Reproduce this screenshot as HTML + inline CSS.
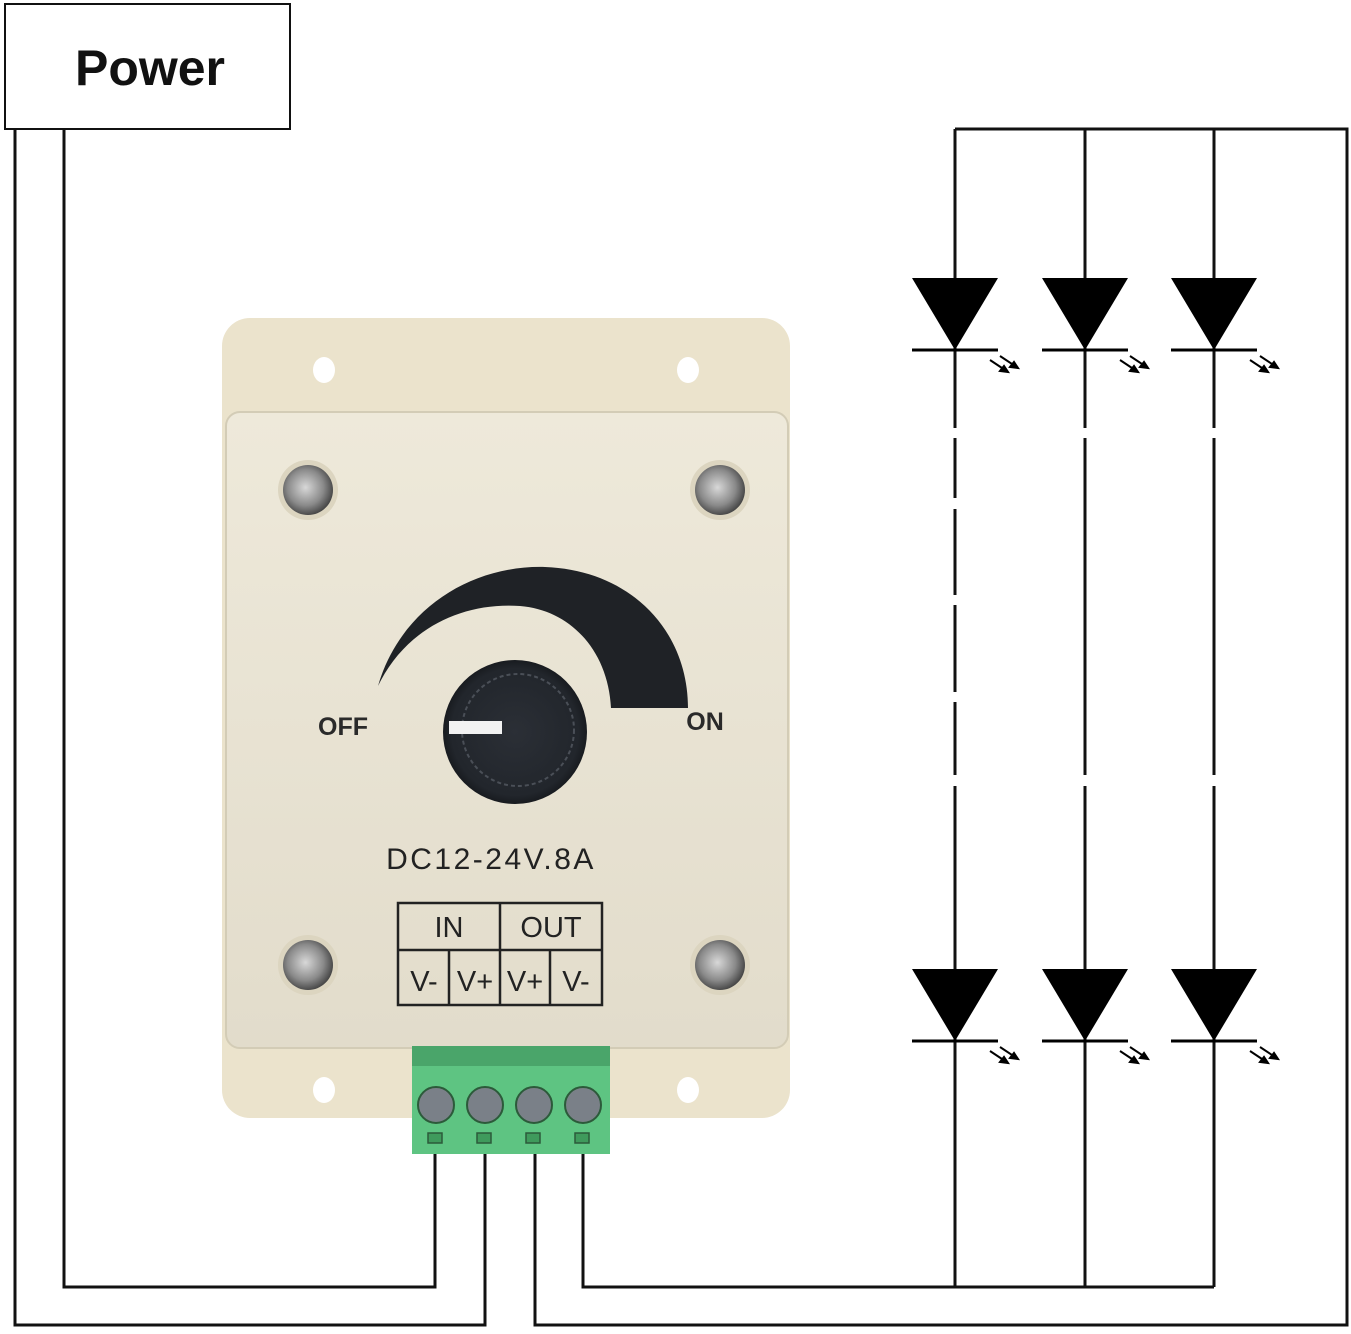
<!DOCTYPE html>
<html><head><meta charset="utf-8"><style>
html,body{margin:0;padding:0;background:#fff;}
svg{display:block;}
</style></head><body>
<svg width="1351" height="1334" viewBox="0 0 1351 1334" xmlns="http://www.w3.org/2000/svg">
<defs>
<radialGradient id="scr" cx="0.45" cy="0.45" r="0.6"><stop offset="0" stop-color="#d8d8d8"/><stop offset="0.6" stop-color="#8a8a8a"/><stop offset="1" stop-color="#3a3a3a"/></radialGradient>
<radialGradient id="knob" cx="0.5" cy="0.5" r="0.55"><stop offset="0" stop-color="#2b2f36"/><stop offset="0.8" stop-color="#22262c"/><stop offset="1" stop-color="#101215"/></radialGradient>
<linearGradient id="bg" x1="0" y1="0" x2="0" y2="1"><stop offset="0" stop-color="#eee9da"/><stop offset="1" stop-color="#e2dccb"/></linearGradient>
</defs>
<rect x="5" y="4" width="285" height="125" fill="#fff" stroke="#111" stroke-width="2"/>
<text x="150" y="85" text-anchor="middle" font-family="Liberation Sans, sans-serif" font-weight="bold" font-size="50" fill="#111">Power</text>
<g fill="none" stroke="#111" stroke-width="3">
<polyline points="64,129 64,1287 435,1287 435,1150"/>
<polyline points="15,129 15,1325 485,1325 485,1150"/>
<polyline points="535,1150 535,1325 1347,1325 1347,129 955,129"/>
<polyline points="583,1150 583,1287 1214,1287"/>
</g>
<g stroke="#111" stroke-width="3" fill="none">
<path d="M955 129V428M955 438V498M955 509V595M955 605V692M955 702V775M955 786V1287"/>
<path d="M1085 129V428M1085 438V775M1085 786V1287"/>
<path d="M1214 129V428M1214 438V775M1214 786V1287"/>
</g>
<g>
<g fill="#000">
<polygon points="912,278 998,278 955,350"/><polygon points="1042,278 1128,278 1085,350"/><polygon points="1171,278 1257,278 1214,350"/>
<polygon points="912,969 998,969 955,1041"/><polygon points="1042,969 1128,969 1085,1041"/><polygon points="1171,969 1257,969 1214,1041"/>
</g>
<g stroke="#000" stroke-width="3">
<path d="M912 350H998M1042 350H1128M1171 350H1257M912 1041H998M1042 1041H1128M1171 1041H1257"/>
</g>
<g stroke="#000" stroke-width="2" fill="#000">
<g transform="translate(990,360)"><path d="M0 0L18 12M10 -4L28 8"/><polygon points="18,12 10,11 14,6"/><polygon points="28,8 20,7 24,2"/></g>
<g transform="translate(1120,360)"><path d="M0 0L18 12M10 -4L28 8"/><polygon points="18,12 10,11 14,6"/><polygon points="28,8 20,7 24,2"/></g>
<g transform="translate(1250,360)"><path d="M0 0L18 12M10 -4L28 8"/><polygon points="18,12 10,11 14,6"/><polygon points="28,8 20,7 24,2"/></g>
<g transform="translate(990,1051)"><path d="M0 0L18 12M10 -4L28 8"/><polygon points="18,12 10,11 14,6"/><polygon points="28,8 20,7 24,2"/></g>
<g transform="translate(1120,1051)"><path d="M0 0L18 12M10 -4L28 8"/><polygon points="18,12 10,11 14,6"/><polygon points="28,8 20,7 24,2"/></g>
<g transform="translate(1250,1051)"><path d="M0 0L18 12M10 -4L28 8"/><polygon points="18,12 10,11 14,6"/><polygon points="28,8 20,7 24,2"/></g>
</g>
</g>
<rect x="222" y="318" width="568" height="800" rx="28" fill="#ebe3cc"/>
<rect x="226" y="412" width="562" height="636" rx="14" fill="url(#bg)" stroke="#d3ccb6" stroke-width="2"/>
<ellipse cx="324" cy="370" rx="11" ry="13" fill="#fff"/>
<ellipse cx="688" cy="370" rx="11" ry="13" fill="#fff"/>
<ellipse cx="324" cy="1090" rx="11" ry="13" fill="#fff"/>
<ellipse cx="688" cy="1090" rx="11" ry="13" fill="#fff"/>
<g>
<circle cx="308" cy="490" r="30" fill="#dcd5c0"/><circle cx="308" cy="490" r="25" fill="url(#scr)"/>
<circle cx="720" cy="490" r="30" fill="#dcd5c0"/><circle cx="720" cy="490" r="25" fill="url(#scr)"/>
<circle cx="308" cy="965" r="30" fill="#dcd5c0"/><circle cx="308" cy="965" r="25" fill="url(#scr)"/>
<circle cx="720" cy="965" r="30" fill="#dcd5c0"/><circle cx="720" cy="965" r="25" fill="url(#scr)"/>
</g>
<path d="M378 686 C 400 610, 470 565, 545 567 C 630 570, 688 630, 688 708 L 611 708 C 608 650, 570 610, 520 606 C 460 602, 405 630, 378 686 Z" fill="#1f2226"/>
<text x="343" y="735" text-anchor="middle" font-family="Liberation Sans, sans-serif" font-size="25" font-weight="bold" fill="#2a2a2a">OFF</text>
<text x="705" y="730" text-anchor="middle" font-family="Liberation Sans, sans-serif" font-size="25" font-weight="bold" fill="#2a2a2a">ON</text>
<circle cx="515" cy="732" r="72" fill="url(#knob)"/>
<circle cx="518" cy="730" r="56" fill="none" stroke="#4a4f57" stroke-width="2" stroke-dasharray="4 3"/>
<rect x="449" y="721" width="53" height="13" fill="#f2f2f2"/>
<text x="491" y="869" text-anchor="middle" font-family="Liberation Sans, sans-serif" font-size="30" fill="#222" letter-spacing="2.5">DC12-24V.8A</text>
<g stroke="#222" stroke-width="2.5" fill="none">
<rect x="398" y="903" width="204" height="102"/>
<path d="M398 950H602M500 903V1005M449 950V1005M550 950V1005"/>
</g>
<g font-family="Liberation Sans, sans-serif" font-size="29" fill="#222" text-anchor="middle">
<text x="449" y="937">IN</text><text x="551" y="937">OUT</text>
<text x="424" y="991">V-</text><text x="475" y="991">V+</text><text x="525" y="991">V+</text><text x="576" y="991">V-</text>
</g>
<rect x="412" y="1046" width="198" height="108" fill="#5ec482"/>
<rect x="412" y="1046" width="198" height="20" fill="#4aa56a"/>
<g fill="#7a8088" stroke="#2c5a3a" stroke-width="2">
<circle cx="436" cy="1105" r="18"/><circle cx="485" cy="1105" r="18"/><circle cx="534" cy="1105" r="18"/><circle cx="583" cy="1105" r="18"/>
</g>
<g fill="#3f9a5c" stroke="#2c5a3a" stroke-width="1.5">
<rect x="428" y="1133" width="14" height="10"/><rect x="477" y="1133" width="14" height="10"/><rect x="526" y="1133" width="14" height="10"/><rect x="575" y="1133" width="14" height="10"/>
</g>
</svg>
</body></html>
